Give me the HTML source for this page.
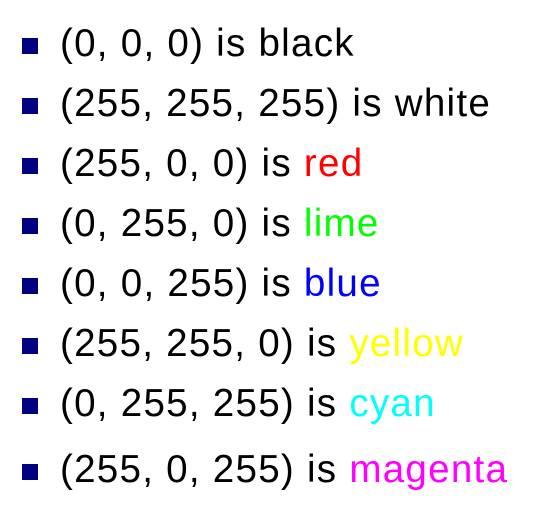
<!DOCTYPE html>
<html><head><style>
body{margin:0;width:558px;height:531px;background:#fff;position:relative;overflow:hidden;font-family:"Liberation Sans",Arial,sans-serif}
.r{position:absolute;left:0;height:60px;width:558px}
.b{position:absolute;left:22px;width:16px;height:16px;background:#000080}
.t{position:absolute;left:60px;font-size:38.6px;line-height:1;white-space:nowrap;color:#000;letter-spacing:1.25px}
</style></head><body>
<div class="r" style="top:0"><div class="b" style="top:38px"></div><div class="t" style="top:25px">(0, 0, 0) is black</div></div>
<div class="r" style="top:60px"><div class="b" style="top:38px"></div><div class="t" style="top:25px">(255, 255, 255) is white</div></div>
<div class="r" style="top:120px"><div class="b" style="top:38px"></div><div class="t" style="top:25px">(255, 0, 0) is <span style="color:#f00">red</span></div></div>
<div class="r" style="top:180px"><div class="b" style="top:38px"></div><div class="t" style="top:25px">(0, 255, 0) is <span style="color:#0f0">lime</span></div></div>
<div class="r" style="top:240px"><div class="b" style="top:38px"></div><div class="t" style="top:25px">(0, 0, 255) is <span style="color:#00f">blue</span></div></div>
<div class="r" style="top:300px"><div class="b" style="top:38px"></div><div class="t" style="top:25px">(255, 255, 0) is <span style="color:#ff0">yellow</span></div></div>
<div class="r" style="top:360px"><div class="b" style="top:38px"></div><div class="t" style="top:25px">(0, 255, 255) is <span style="color:#0ff">cyan</span></div></div>
<div class="r" style="top:426px"><div class="b" style="top:38px"></div><div class="t" style="top:25px">(255, 0, 255) is <span style="color:#f0f">magenta</span></div></div>
</body></html>
